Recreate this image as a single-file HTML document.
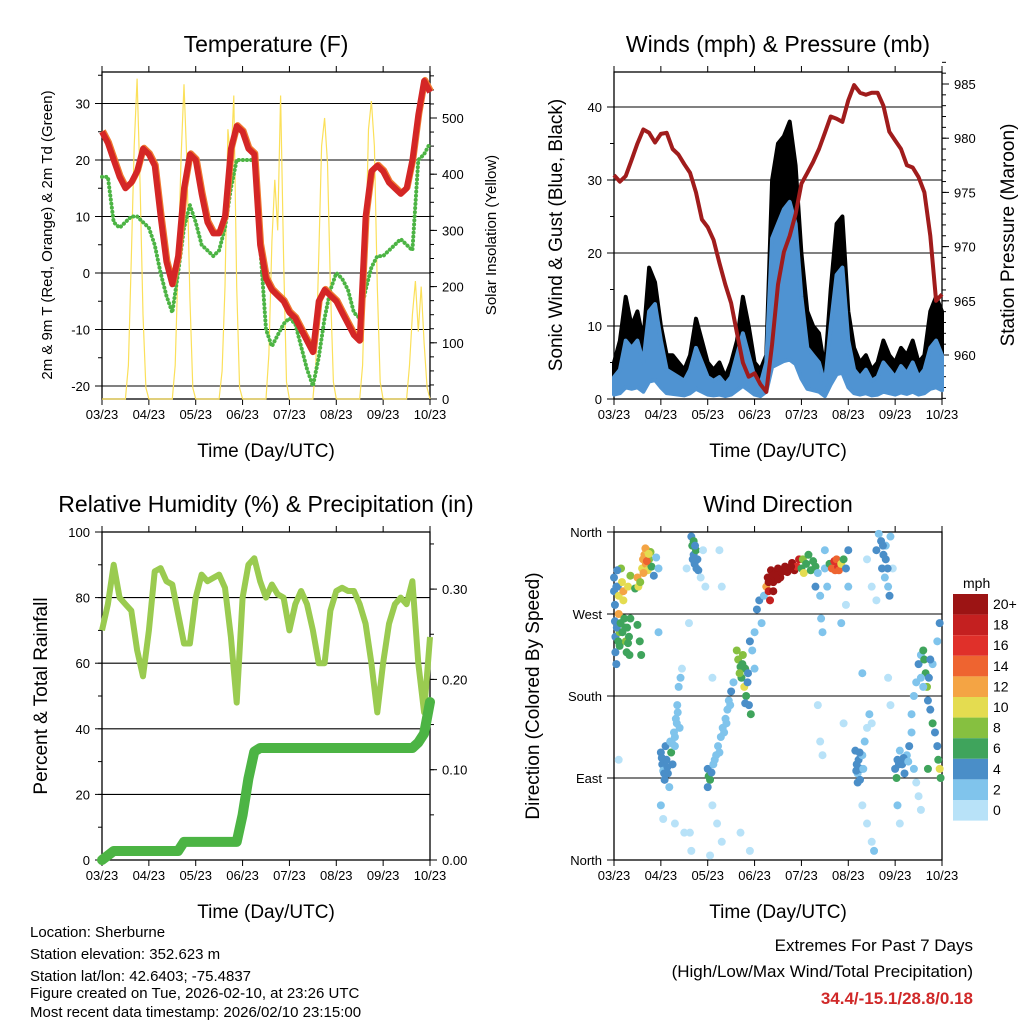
<!DOCTYPE html>
<html><head><meta charset="utf-8"><style>
body{margin:0;background:#fff}
svg{display:block;font-family:"Liberation Sans",sans-serif}
</style></head><body>
<svg id="s" width="1024" height="1024" viewBox="0 0 1024 1024" xmlns="http://www.w3.org/2000/svg">
<g id="g"></g>
<g font-size="15" fill="#000">
<text x="30" y="937">Location: Sherburne</text>
<text x="30" y="959">Station elevation: 352.623 m</text>
<text x="30" y="981">Station lat/lon: 42.6403; -75.4837</text>
<text x="30" y="998">Figure created on Tue, 2026-02-10, at 23:26 UTC</text>
<text x="30" y="1017">Most recent data timestamp: 2026/02/10 23:15:00</text>
</g>
<g text-anchor="end">
<text x="973" y="951" font-size="17">Extremes For Past 7 Days</text>
<text x="973" y="977" font-size="17">(High/Low/Max Wind/Total Precipitation)</text>
<text x="973" y="1004" font-size="17" font-weight="bold" fill="#d02828">34.4/-15.1/28.8/0.18</text>
</g>
</svg>
<script>
// ---- data ----
const dayLabels=["03/23","04/23","05/23","06/23","07/23","08/23","09/23","10/23"];
const tempRed=[25,23,20,17,15,16,18,22,21,19,10,2,-2,3,15,21,20,14,9,7,7,10,22,26,25,22,21,5,-1,-3,-4,-5,-7,-8,-10,-12,-14,-5,-3,-4,-5,-7,-9,-11,-12,10,18,19,18,16,15,14,15,20,28,34,32];
const dewGreen=[17,17,9,8,9,10,10,9,8,5,0,-4,-7,0,8,12,9,5,4,3,4,8,15,20,20,20,20,5,-10,-13,-11,-9,-8,-9,-13,-17,-20,-15,-8,-3,0,-1,-3,-7,-8,-3,1,3,3,4,5,6,5,4,20,21,23];
const solarDayVals=[[60,250,450,570,380,150,20],[60,240,430,560,420,180,20],[50,200,480,420,540,200,20],[80,280,390,300,540,250,30],[60,250,450,500,420,200,30],[60,260,480,530,450,200,30],[60,150,210,120,200,100,20]];
const windSpd=[3,4,8,7,8,5,12,13,8,4,3.5,3,2.5,4,7,5,3,2.5,3,2,3,6,9,6,3,2,5,22,24,26,27,24,14,7,6,5,2,10,17,18,8,4,3,4,2.5,3,5,4,3,4.5,3.5,5,3,4,7,8,6];
const gustSpd=[5,8,14,10,12,8,18,16,10,6,6,5,4,6,11,8,5,4,5,3,5,8,14,10,5,4,6,30,35,36,38,32,20,12,10,9,4,15,24,25,12,7,5,6,4,5,8,6,5,7,6,8,5,6,12,14,12];
const pressure=[976.6,976,976.5,978,979.5,980.8,980.5,979.6,980.4,980.5,979,978.5,977.6,976.8,975,972.5,971.8,970.6,968.5,966.5,964.8,962,959.3,958,958.3,957.3,956.6,961,966.5,969.5,971,973,975.8,976.8,977.8,979,980.5,982,981.8,981.5,983.5,984.9,984.2,984,984.2,984.2,983,980.6,979.8,979,977.5,977.3,976.4,975,971,965,965.6];
const rh=[70,78,90,80,78,76,64,56,70,88,89,85,84,75,66,66,80,87,85,86,87,83,68,48,80,90,92,85,80,84,81,80,70,78,82,78,70,60,60,76,82,83,82,82,78,72,60,45,60,72,78,80,78,85,60,45,68];
const precip=[0,0.005,0.01,0.01,0.01,0.01,0.01,0.01,0.01,0.01,0.01,0.01,0.01,0.01,0.02,0.02,0.02,0.02,0.02,0.02,0.02,0.02,0.02,0.02,0.05,0.09,0.12,0.124,0.124,0.124,0.124,0.124,0.124,0.124,0.124,0.124,0.124,0.124,0.124,0.124,0.124,0.124,0.124,0.124,0.124,0.124,0.124,0.124,0.124,0.124,0.124,0.124,0.124,0.124,0.13,0.14,0.175];
const dirPts=[[0.0,310,4],[0.0,295,4],[0.02,280,4],[0.02,262,4],[0.03,245,4],[0.03,228,4],[0.05,215,4],[0.08,300,4],[0.1,290,10],[0.1,270,12],[0.12,250,8],[0.12,235,6],[0.15,320,9],[0.17,305,11],[0.2,295,12],[0.2,285,10],[0.22,265,7],[0.24,255,6],[0.25,240,8],[0.27,228,6],[0.3,300,10],[0.32,245,7],[0.35,312,8],[0.35,265,6],[0.1,110,1],
[0.06,255,4],[0.09,240,7],[0.14,260,6],[0.18,250,7],[0.28,255,6],[0.3,238,7],[0.33,225,6],[0.05,300,4],[0.07,318,4],
[0.45,298,6],[0.5,310,12],[0.52,300,10],[0.5,258,7],[0.55,240,6],[0.58,225,6],[0.6,320,10],[0.62,330,12],[0.65,335,13],[0.68,325,12],[0.7,340,10],[0.72,318,11],[0.75,330,9],[0.78,338,8],[0.8,322,6],[0.85,312,4],[0.9,332,3],[0.95,320,2],[0.95,250,2],
[0.63,315,12],[0.67,342,12],[0.7,328,14],[0.74,336,10],[0.56,305,8],
[1.0,118,4],[1.03,105,4],[1.05,98,3],[1.08,88,4],[1.1,125,4],[1.12,110,5],[1.15,95,4],[1.18,80,2],[1.2,130,3],[1.22,118,6],[1.25,105,4],[1.28,140,3],[1.3,125,3],[1.32,155,3],[1.35,170,2],[1.38,190,3],[1.4,145,2],[1.42,200,2],[1.45,210,1],[1.0,60,2],[1.05,45,1],[1.3,40,1],[1.5,30,0],
[1.02,112,4],[1.07,95,4],[1.14,102,4],[1.24,128,3],[1.3,135,2],[1.34,150,2],[1.36,162,2],
[1.65,355,4],[1.67,345,6],[1.7,350,6],[1.7,335,4],[1.72,325,4],[1.75,340,7],[1.78,330,5],[1.8,318,4],[1.85,310,1],[1.9,340,1],[1.95,300,1],[1.6,260,1],[1.55,320,1],[1.65,10,1],[1.62,30,1],
[1.68,330,4],[1.73,345,4],[1.76,320,4],
[2.0,100,4],[2.02,92,6],[2.05,88,6],[2.08,96,5],[2.0,80,4],[2.12,105,3],[2.18,115,2],[2.22,125,2],[2.28,135,2],[2.32,145,3],[2.38,155,2],[2.42,165,3],[2.45,175,2],[2.5,185,4],[2.55,195,3],[2.1,60,1],[2.2,40,1],[2.3,20,1],[2.05,5,1],[2.1,200,1],[2.3,300,1],[2.25,340,1],
[2.15,110,2],[2.25,118,2],[2.35,140,2],[2.4,150,2],[2.48,170,2],
[2.62,230,8],[2.65,220,9],[2.7,212,7],[2.72,200,6],[2.75,225,8],[2.78,190,10],[2.8,210,7],[2.82,180,6],[2.85,195,5],[2.88,170,4],[2.9,240,4],[2.92,160,6],[2.95,230,2],[3.0,250,3],[3.0,210,2],[2.7,30,1],[2.9,10,1],
[2.68,205,8],[2.74,215,6],[2.86,205,4],[2.8,172,4],
[3.05,275,4],[3.1,285,4],[3.15,260,2],[3.2,290,2],[3.25,300,12],[3.28,310,20],[3.3,295,18],[3.35,318,20],[3.4,305,20],[3.45,315,20],[3.5,320,20],[3.55,310,20],[3.6,318,20],[3.65,322,20],[3.7,316,20],[3.75,320,20],[3.8,326,20],[3.85,318,20],[3.9,322,16],[3.95,330,18],[3.33,285,18],[3.4,295,20],[3.5,308,20],
[3.38,312,20],[3.48,312,20],[3.58,316,20],[3.68,318,20],[3.78,322,20],[3.3,305,20],
[4.0,320,6],[4.03,330,8],[4.05,315,10],[4.1,325,7],[4.15,335,6],[4.2,318,6],[4.25,328,7],[4.3,322,6],[4.3,300,4],[4.35,315,3],[4.4,290,2],[4.42,265,2],[4.45,250,3],[4.5,320,2],[4.55,300,2],[4.5,340,3],[4.35,170,1],[4.4,130,1],[4.45,115,1],
[4.6,325,6],[4.65,320,15],[4.7,328,16],[4.72,318,14],[4.75,330,15],[4.78,322,16],[4.8,318,14],[4.85,325,10],[4.9,330,6],[4.95,320,4],[5.0,340,4],[5.0,300,2],[4.85,260,2],[4.9,150,1],[4.95,280,1],
[5.15,120,4],[5.18,105,4],[5.2,95,3],[5.22,110,4],[5.25,88,4],[5.28,100,4],[5.3,115,3],[5.35,130,2],[5.4,145,1],[5.45,160,2],[5.5,150,1],[5.3,60,1],[5.4,40,1],[5.5,20,1],[5.55,10,2],[5.3,205,2],
[5.17,98,4],[5.24,118,4],[5.2,85,4],[5.32,100,2],
[5.6,340,4],[5.65,358,3],[5.7,350,4],[5.72,320,4],[5.75,335,5],[5.78,310,3],[5.8,345,2],[5.85,300,2],[5.88,290,4],[5.9,355,2],[5.95,320,1],[5.5,300,1],[5.4,330,1],[5.6,285,1],[5.85,200,1],[5.9,170,1],
[5.74,345,4],[5.8,330,4],[5.84,320,4],
[6.0,100,4],[6.03,90,6],[6.05,110,4],[6.1,120,3],[6.15,105,4],[6.2,95,4],[6.25,115,3],[6.3,125,4],[6.35,140,2],[6.4,100,2],[6.45,85,1],[6.5,70,1],[6.55,55,1],[6.05,60,2],[6.1,40,1],
[6.08,105,4],[6.18,112,4],[6.28,108,3],
[6.35,160,2],[6.4,180,3],[6.45,195,2],[6.5,215,4],[6.55,225,3],[6.6,230,6],[6.62,220,7],[6.65,205,6],[6.68,190,8],[6.7,175,5],[6.75,165,4],[6.8,150,6],[6.85,140,4],[6.9,125,5],[6.92,110,6],[6.95,100,10],[6.97,90,6],[6.9,240,3],[6.95,260,4],[6.7,100,7],[6.8,215,2],
[6.55,200,2],[6.6,190,2],[6.72,200,4],[6.75,220,4]];
const speedColors=["#b8e2f8","#80c4ec","#4a8ec8","#3fa45c","#86c040","#e4dc50","#f4a444","#ee6430","#e0302a","#c42020","#9c1414"];
const speedLabels=["0","2","4","6","8","10","12","14","16","18","20+"];

// ---- drawing ----
const NS="http://www.w3.org/2000/svg";
const G=document.getElementById('g');
function el(tag,attrs,parent,txt){const e=document.createElementNS(NS,tag);for(const k in attrs)e.setAttribute(k,attrs[k]);if(txt!==undefined)e.textContent=txt;(parent||G).appendChild(e);return e;}
function grp(name){const g=el('g',{});return g;}
function lin(d0,d1,r0,r1){return v=>r0+(v-d0)*(r1-r0)/(d1-d0);}
function poly(pts){return pts.map(p=>p[0].toFixed(1)+','+p[1].toFixed(1)).join(' ');}
const N=57;

function panel(name,x0,x1,y0,y1,title,xtitle){
  const g=grp(name);
  el('rect',{x:x0,y:y0,width:x1-x0,height:y1-y0,fill:'none',stroke:'#000','stroke-width':1.3},g);
  const t=el('text',{x:(x0+x1)/2,y:y0-20,'font-size':23,'text-anchor':'middle'},g,title);
  
  const xs=lin(0,7,x0,x1);
  const ax=grp(name+'-x-axis');g.appendChild(ax);
  dayLabels.forEach((l,i)=>{const x=xs(i);
    el('line',{x1:x,x2:x,y1:y1,y2:y1+6,stroke:'#000'},ax);el('line',{x1:x,x2:x,y1:y0,y2:y0-6,stroke:'#000'},ax);
    el('text',{x:x,y:y1+20,'font-size':13,'text-anchor':'middle'},ax,l);});
  const xt=el('text',{x:(x0+x1)/2,y:y1+58,'font-size':19,'text-anchor':'middle'},g,xtitle);
  
  return {g,xs};
}
function yAxis(g,name,x,side,ticks,ys,fmt,minor){
  const a=grp(name);g.appendChild(a);
  const d=side<0?-1:1;
  minor.forEach(v=>el('line',{x1:x,x2:x+d*4,y1:ys(v),y2:ys(v),stroke:'#000'},a));
  ticks.forEach(v=>{el('line',{x1:x,x2:x+d*7,y1:ys(v),y2:ys(v),stroke:'#000'},a);
    el('text',{x:x+d*12,y:ys(v)+5,'font-size':13,'text-anchor':side<0?'end':'start'},a,fmt(v));});
}
function yTitle(g,name,x,y,txt,fs){const t=el('text',{x:x,y:y,'font-size':fs,'text-anchor':'middle',transform:`rotate(-90 ${x} ${y})`},g,txt);}
function hgrid(g,x0,x1,ys,vals){vals.forEach(v=>el('line',{x1:x0,x2:x1,y1:ys(v),y2:ys(v),stroke:'#000','stroke-width':1.1},g));}
function range(a,b,s){const r=[];for(let v=a;v<=b+1e-9;v+=s)r.push(+v.toFixed(4));return r;}

// Panel 1 Temperature
(function(){
 const x0=102,x1=430,y0=72,y1=399;
 const {g,xs}=panel('temperature-panel',x0,x1,y0,y1,'Temperature (F)','Time (Day/UTC)');
 const ys=lin(0,10,273,216.5), ss=lin(0,100,399,342.8);
 hgrid(g,x0,x1,ys,[-20,-10,0,10,20,30]);
 yAxis(g,'temp-left-axis',x0,-1,[-20,-10,0,10,20,30],ys,v=>v,range(-20,35,5));
 yAxis(g,'solar-right-axis',x1,1,[0,100,200,300,400,500],ss,v=>v,range(0,575,25));
 yTitle(g,'temp-left-axis-title',52,235,'2m & 9m T (Red, Orange) & 2m Td (Green)',15);
 yTitle(g,'solar-right-axis-title',496,235,'Solar Insolation (Yellow)',15);
 const sol=[];solarDayVals.forEach((vals,d)=>{const base=d+0.5;sol.push([xs(base),ss(0)]);vals.forEach((v,k)=>sol.push([xs(base+0.0625*(k+1)),ss(v)]));sol.push([xs(base+0.5),ss(0)]);});
 const sl=el('polyline',{points:poly([[x0,ss(0)],...sol,[x1,ss(0)]]),fill:'none',stroke:'#fbe05a','stroke-width':1.2},g);
 
 const tx=i=>xs(i*7/(N-1));
 const gr=el('polyline',{points:poly(dewGreen.map((v,i)=>[tx(i),ys(v)])),fill:'none',stroke:'#4cb444','stroke-width':4,'stroke-dasharray':'0.1 4','stroke-linecap':'round'},g);
 
 const or=el('polyline',{points:poly(tempRed.map((v,i)=>[tx(i)+1,ys(v)-1])),fill:'none',stroke:'#f07a30','stroke-width':6,'stroke-linejoin':'round'},g);
 
 const rd=el('polyline',{points:poly(tempRed.map((v,i)=>[tx(i),ys(v)])),fill:'none',stroke:'#d42626','stroke-width':6,'stroke-linejoin':'round'},g);
 
})();

// Panel 2 Winds
(function(){
 const x0=614,x1=942,y0=72,y1=399;
 const {g,xs}=panel('winds-panel',x0,x1,y0,y1,'Winds (mph) & Pressure (mb)','Time (Day/UTC)');
 const ys=lin(0,10,399,326), ps=lin(960,965,355,300.8);
 hgrid(g,x0,x1,ys,[10,20,30,40]);
 yAxis(g,'wind-left-axis',x0,-1,[0,10,20,30,40],ys,v=>v,range(0,40,5));
 yAxis(g,'pressure-right-axis',x1,1,[960,965,970,975,980,985],ps,v=>v,range(956,987,1));
 yTitle(g,'wind-left-axis-title',562,235,'Sonic Wind & Gust (Blue, Black)',19);
 yTitle(g,'pressure-right-axis-title',1014,235,'Station Pressure (Maroon)',19);
 const tx=i=>xs(i*7/(N-1));
 const gp=el('polygon',{points:poly([...gustSpd.map((v,i)=>[tx(i),ys(v)]),...windSpd.map((v,i)=>[tx(N-1-i),ys(windSpd[N-1-i])])]),fill:'#000',stroke:'#000','stroke-width':4,'stroke-linejoin':'round'},g);
 
 const bp=el('polygon',{points:poly([...windSpd.map((v,i)=>[tx(i),ys(v)]),...windSpd.map((v,i)=>[tx(N-1-i),ys(windSpd[N-1-i]*0.2)])]),fill:'#4f93d2',stroke:'#4f93d2','stroke-width':4,'stroke-linejoin':'round'},g);
 
 const pl=el('polyline',{points:poly(pressure.map((v,i)=>[tx(i),ps(v)])),fill:'none',stroke:'#a01c1c','stroke-width':4,'stroke-linejoin':'round'},g);
 
})();

// Panel 3 RH & Precip
(function(){
 const x0=102,x1=430,y0=532,y1=860;
 const {g,xs}=panel('humidity-panel',x0,x1,y0,y1,'Relative Humidity (%) & Precipitation (in)','Time (Day/UTC)');
 const ys=lin(0,100,860,532), ps=lin(0,0.1,860,769.7);
 hgrid(g,x0,x1,ys,[20,40,60,80]);
 yAxis(g,'rh-left-axis',x0,-1,[0,20,40,60,80,100],ys,v=>v,range(0,100,10));
 yAxis(g,'precip-right-axis',x1,1,[0,0.1,0.2,0.3],ps,v=>v.toFixed(2),range(0,0.35,0.05));
 yTitle(g,'rh-left-axis-title',47,696,'Percent & Total Rainfall',19);
 const tx=i=>xs(i*7/(N-1));
 const r=el('polyline',{points:poly(rh.map((v,i)=>[tx(i),ys(v)])),fill:'none',stroke:'#9acb50','stroke-width':6,'stroke-linejoin':'round'},g);
 
 const p=el('polyline',{points:poly(precip.map((v,i)=>[tx(i),ps(v)])),fill:'none',stroke:'#4cb444','stroke-width':10,'stroke-linejoin':'round','stroke-linecap':'round'},g);
 
})();

// Panel 4 Wind direction
(function(){
 const x0=614,x1=942,y0=532,y1=860;
 const {g,xs}=panel('wind-direction-panel',x0,x1,y0,y1,'Wind Direction','Time (Day/UTC)');
 const ds=lin(0,360,860,532);
 hgrid(g,x0,x1,ds,[90,180,270]);
 const dl=['North','East','South','West','North'];
 yAxis(g,'direction-left-axis',x0,-1,[0,90,180,270,360],ds,v=>dl[v/90],[0,90,180,270,360]);
 yTitle(g,'direction-left-axis-title',539,696,'Direction (Colored By Speed)',19);
 const sg=grp('direction-scatter');g.appendChild(sg);
 dirPts.forEach(p=>{const c=el('circle',{cx:xs(p[0]),cy:ds(p[1]),r:4,fill:speedColors[Math.min(10,Math.floor(p[2]/2))]},sg);
  
  });
 const lg=grp('speed-colorbar');
 el('text',{x:963,y:588,'font-size':14},lg,'mph');
 for(let i=0;i<11;i++){const y=594+i*20.6;
  const b=el('rect',{x:953,y:y,width:35,height:20.6,fill:speedColors[10-i]},lg);
  
  
  el('text',{x:993,y:y+15,'font-size':14},lg,speedLabels[10-i]);}
})();
</script>
</body></html>
